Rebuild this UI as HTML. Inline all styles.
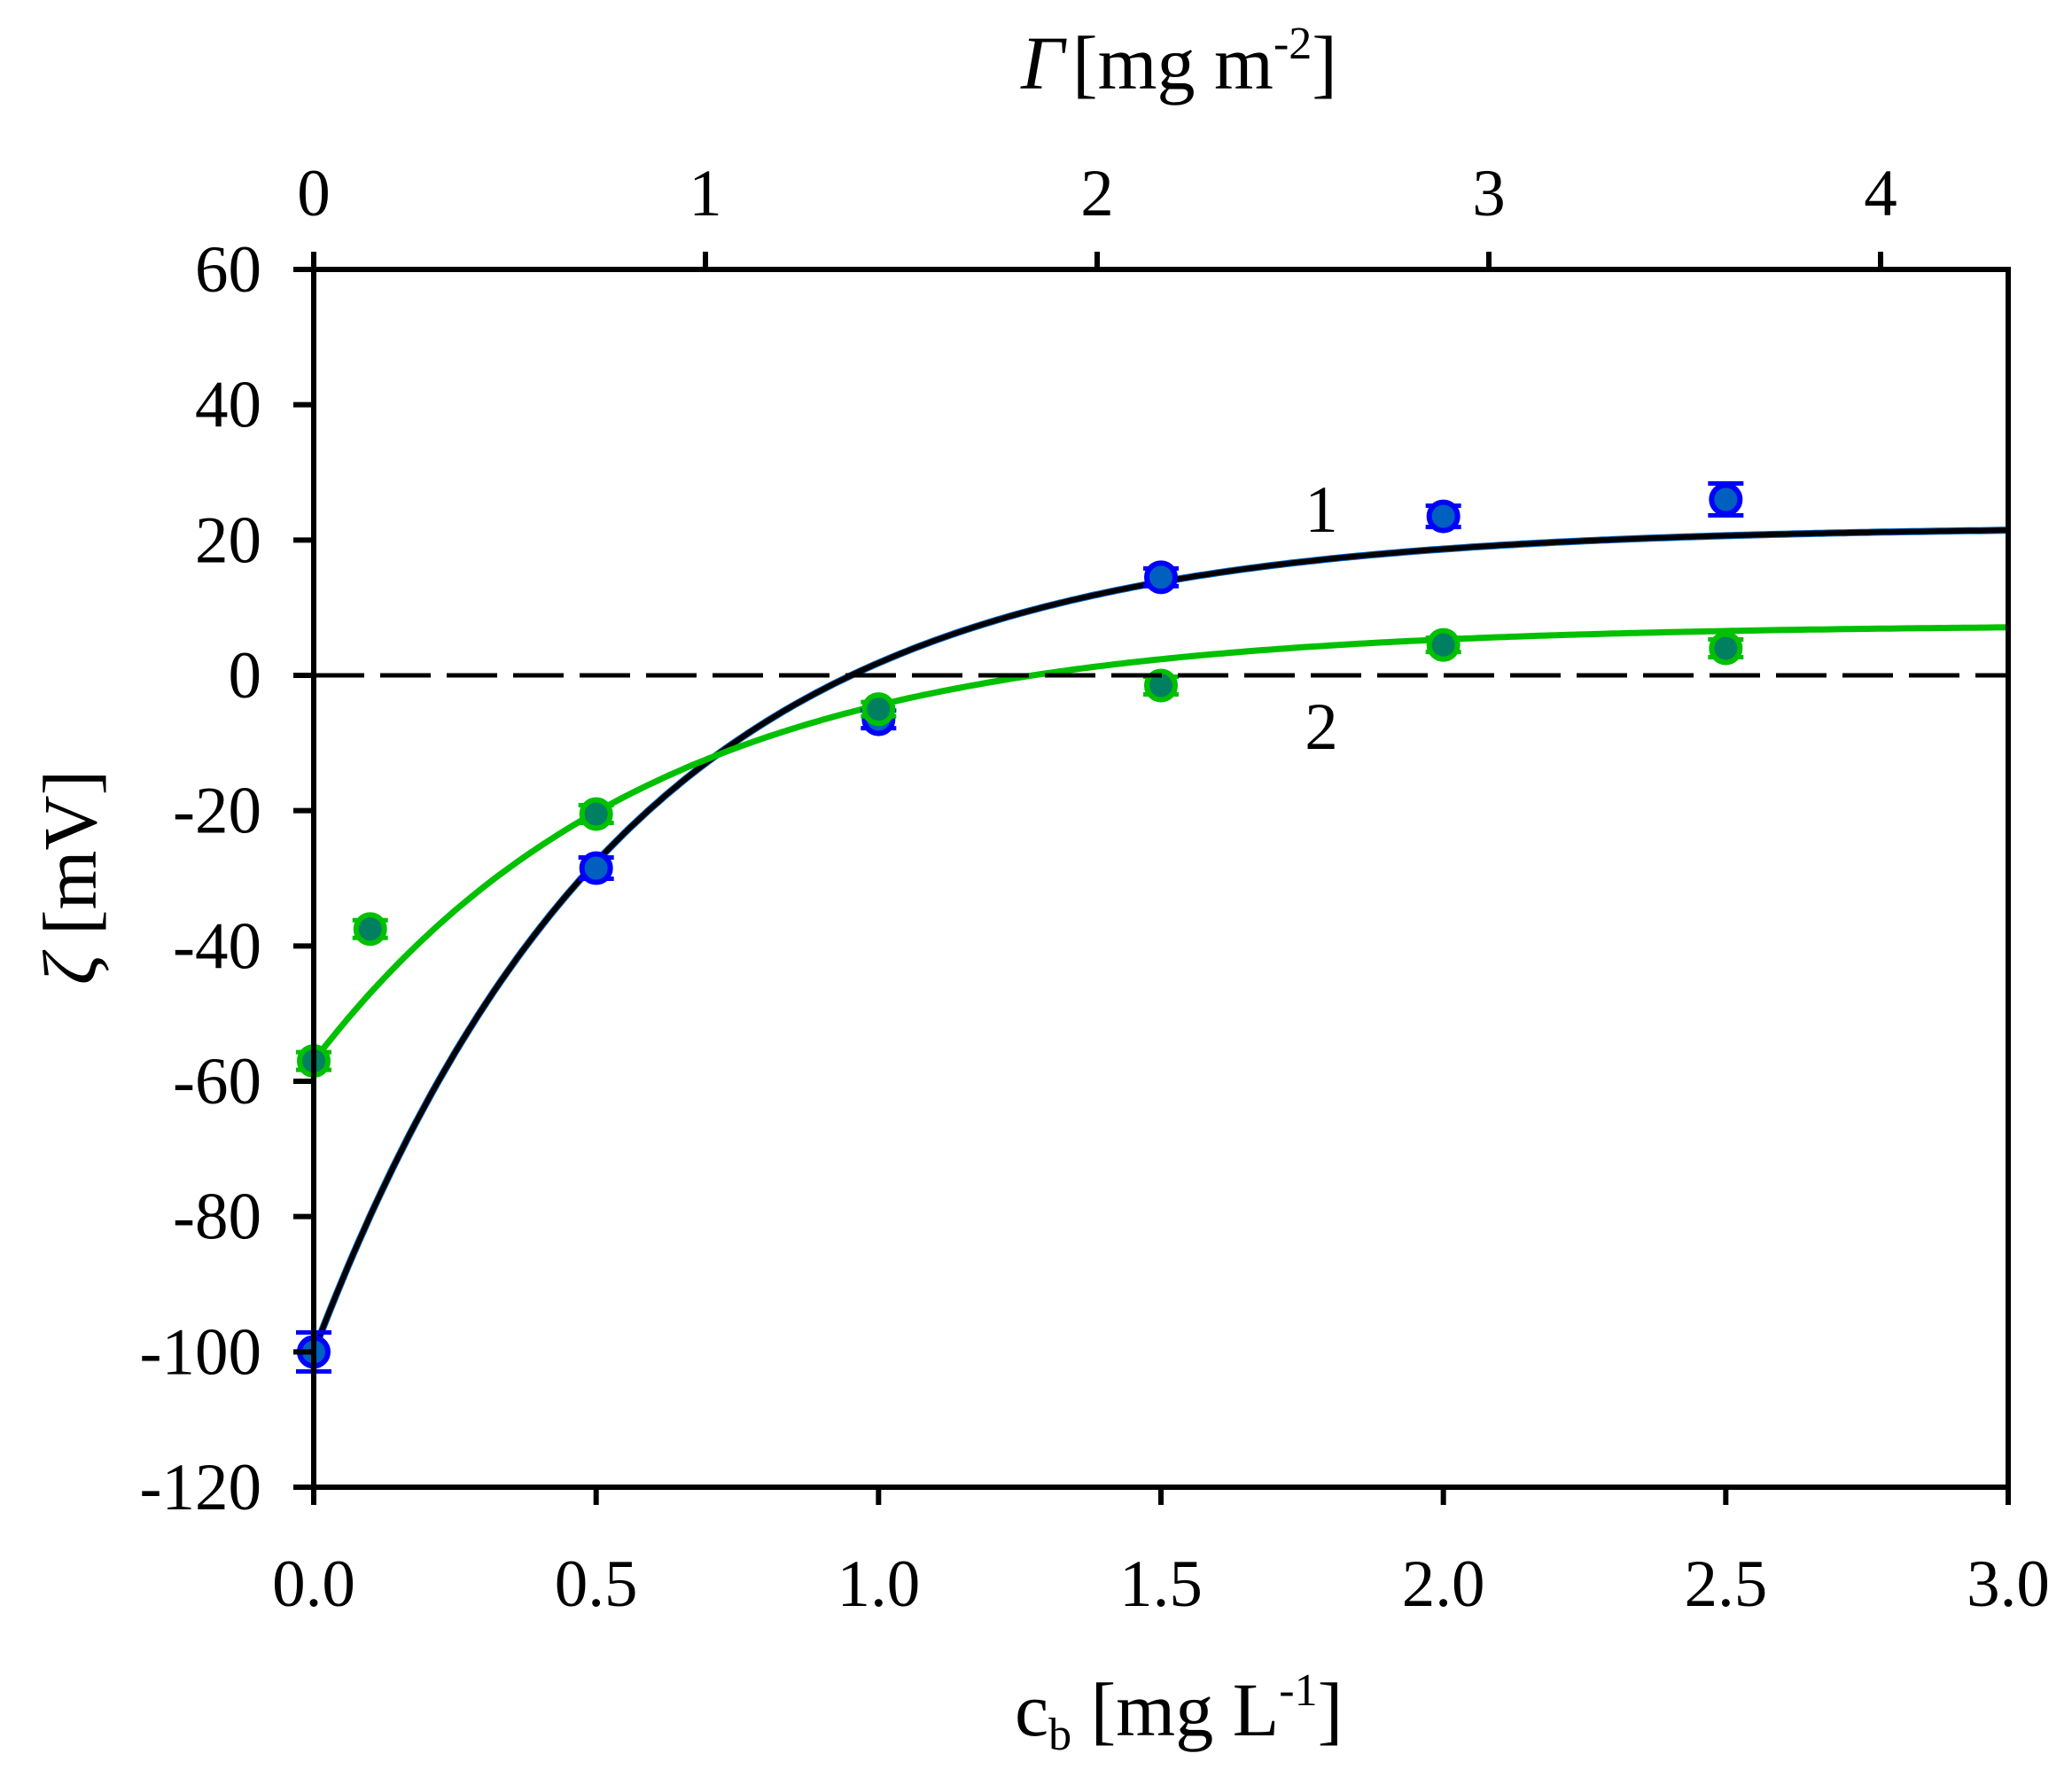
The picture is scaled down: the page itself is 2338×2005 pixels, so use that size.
<!DOCTYPE html>
<html><head><meta charset="utf-8"><style>
html,body{margin:0;padding:0;background:#fff;}
svg{display:block;}
text{font-family:"Liberation Serif",serif;fill:#000;}
</style></head><body>
<svg id="s" width="2338" height="2005" viewBox="0 0 2338 2005" xmlns="http://www.w3.org/2000/svg">
<rect width="2338" height="2005" fill="#fff"/>
<g id="g"></g>
<rect x="354" y="304" width="1912" height="1374" fill="none" stroke="#000" stroke-width="6"/>
<line x1="354" y1="762" x2="2266" y2="762" stroke="#000" stroke-width="5" stroke-dasharray="57,18"/>
<g id="ticks" stroke="#000" stroke-width="6"></g>
<g font-size="75" text-anchor="end" id="ylab"></g>
<g font-size="75" text-anchor="middle" id="xlab"></g>
<g font-size="75" text-anchor="middle" id="tlab"></g>
<text x="1152" y="100" font-size="86" font-style="italic">Γ</text>
<text x="1210" y="100" font-size="86">[mg m<tspan font-size="52" dy="-34">-2</tspan><tspan dy="34">]</tspan></text>
<text x="1145" y="1958" font-size="86">c<tspan font-size="52" dy="16">b</tspan><tspan dy="-16"> [mg L</tspan><tspan font-size="52" dy="-34">-1</tspan><tspan dy="34">]</tspan></text>
<text transform="translate(108,990) rotate(-90)" font-size="86" text-anchor="middle"><tspan font-style="italic">ζ</tspan> [mV]</text>
<text x="1491" y="600" font-size="75" text-anchor="middle">1</text>
<text x="1491" y="845" font-size="75" text-anchor="middle">2</text>
</svg>
<script>
var L=354,R=2266,T=304,B=1678;
function X(v){return L+(R-L)*v/3;}
function Y(v){return T+(B-T)*(60-v)/180;}
var ns="http://www.w3.org/2000/svg";
function el(p,n,a,t){var e=document.createElementNS(ns,n);for(var k in a)e.setAttribute(k,a[k]);if(t!=null)e.textContent=t;document.getElementById(p).appendChild(e);return e;}
for(var v=60;v>=-120;v-=20){el("ticks","line",{x1:331,y1:Y(v),x2:354,y2:Y(v)});el("ylab","text",{x:295,y:Y(v)+25},String(v));}
for(var i=0;i<=6;i++){var x=X(i*0.5);el("ticks","line",{x1:x,y1:1678,x2:x,y2:1698});el("xlab","text",{x:x,y:1812},(i*0.5).toFixed(1));}
for(var i=0;i<=4;i++){var x=354+442*i;el("ticks","line",{x1:x,y1:304,x2:x,y2:284});el("tlab","text",{x:x,y:243},String(i));}
function curve(A,Bc,k){var d="";for(var j=0;j<=300;j++){var c=3*j/300;var y=A-Bc*Math.exp(-k*c);d+=(j?"L":"M")+X(c).toFixed(1)+","+Y(y).toFixed(1);}return d;}
el("g","path",{d:curve(22,122,1.8),fill:"none",stroke:"#0060c0",'stroke-width':8});
el("g","path",{d:curve(22,122,1.8),fill:"none",stroke:"#000",'stroke-width':6});
el("g","path",{d:curve(7.5,64.5,1.69),fill:"none",stroke:"#00c000",'stroke-width':7});
function pt(c,v,fill,st,eb){var x=X(c),y=Y(v);
 if(eb){el("g","line",{x1:x,y1:y-eb,x2:x,y2:y+eb,stroke:st,'stroke-width':5});
 el("g","line",{x1:x-20,y1:y-eb,x2:x+20,y2:y-eb,stroke:st,'stroke-width':5});
 el("g","line",{x1:x-20,y1:y+eb,x2:x+20,y2:y+eb,stroke:st,'stroke-width':5});}
 el("g","circle",{cx:x,cy:y,r:16,fill:fill,stroke:st,'stroke-width':6});}
[[0,-100,22],[0.5,-28.5,12],[1,-6.5,10],[1.5,14.5,10],[2,23.5,12],[2.5,26,18]].forEach(function(p){pt(p[0],p[1],"#0060c0","#0000ff",p[2]);});
[[0,-57,10],[0.1,-37.5,10],[0.5,-20.5,10],[1,-5,8],[1.5,-1.5,10],[2,4.5,8],[2.5,4,10]].forEach(function(p){pt(p[0],p[1],"#008060","#00c000",p[2]);});
</script>
</body></html>
